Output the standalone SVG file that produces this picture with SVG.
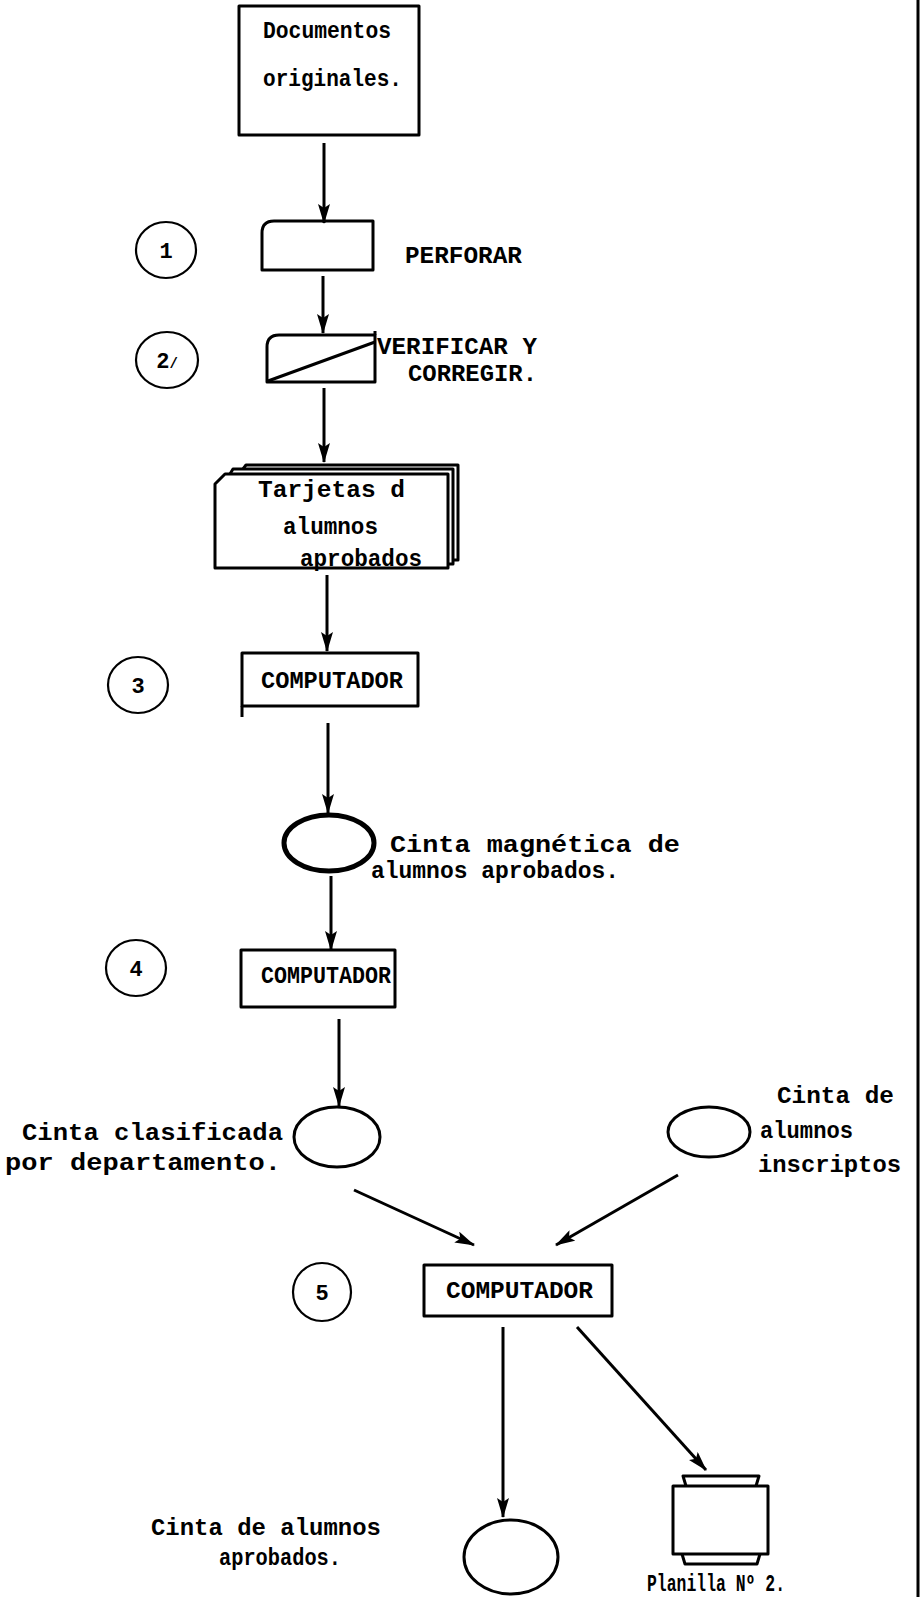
<svg xmlns="http://www.w3.org/2000/svg" width="921" height="1597" viewBox="0 0 921 1597">
<style>
.bg{fill:#fff}
.shape{fill:none;stroke:#000;stroke-width:3;stroke-linejoin:round}
.thick{fill:none;stroke:#000;stroke-width:5}
.circ{fill:none;stroke:#000;stroke-width:2.2}
.conn{fill:none;stroke:#000;stroke-width:3}
.t{font-family:"Liberation Mono","Courier New",monospace;font-weight:bold;font-size:23px;fill:#000}
.n{font-family:"Liberation Mono","Courier New",monospace;font-weight:bold;font-size:22px;fill:#000;text-anchor:middle}
</style>
<defs>
<marker id="ah" markerUnits="userSpaceOnUse" markerWidth="20" markerHeight="12" refX="19" refY="6" orient="auto">
<path d="M0,0 L20,6 L0,12 L4,6 Z" fill="#000"/>
</marker>
</defs>
<rect class="bg" x="0" y="0" width="921" height="1597"/>
<line x1="918" y1="0" x2="918" y2="1597" stroke="#000" stroke-width="3"/>

<g id="connectors">
<line class="conn" x1="324" y1="143" x2="324" y2="223" marker-end="url(#ah)"/>
<line class="conn" x1="323" y1="276" x2="323" y2="333" marker-end="url(#ah)"/>
<line class="conn" x1="324" y1="388" x2="324" y2="462" marker-end="url(#ah)"/>
<line class="conn" x1="327" y1="575" x2="327" y2="651" marker-end="url(#ah)"/>
<line class="conn" x1="328" y1="723" x2="328" y2="813" marker-end="url(#ah)"/>
<line class="conn" x1="331" y1="876" x2="331" y2="950" marker-end="url(#ah)"/>
<line class="conn" x1="339" y1="1019" x2="339" y2="1106" marker-end="url(#ah)"/>
<line class="conn" x1="354" y1="1190" x2="474" y2="1245" marker-end="url(#ah)"/>
<line class="conn" x1="678" y1="1175" x2="556" y2="1245" marker-end="url(#ah)"/>
<line class="conn" x1="503" y1="1327" x2="503" y2="1517" marker-end="url(#ah)"/>
<line class="conn" x1="577" y1="1327" x2="706" y2="1470" marker-end="url(#ah)"/>
</g>

<g id="documentos">
<rect class="shape" x="239" y="6" width="180" height="129"/>
<text class="t" x="263" y="38" textLength="128" lengthAdjust="spacingAndGlyphs">Documentos</text>
<text class="t" x="263" y="86" textLength="139" lengthAdjust="spacingAndGlyphs">originales.</text>
</g>

<g id="step1">
<ellipse class="circ" cx="166" cy="250" rx="30" ry="28"/>
<text class="n" x="166" y="258">1</text>
</g>
<g id="perforar">
<path class="shape" d="M262,233 Q262,221 274,221 L373,221 L373,270 L262,270 Z"/>
<text class="t" x="405" y="263" textLength="117" lengthAdjust="spacingAndGlyphs">PERFORAR</text>
</g>

<g id="step2">
<ellipse class="circ" cx="167" cy="360" rx="31" ry="28"/>
<text class="n" x="167" y="368">2<tspan font-size="14">/</tspan></text>
</g>
<g id="verificar">
<path class="shape" d="M267,347 Q267,335 279,335 L375,335 L375,382 L267,382 Z"/>
<line class="shape" x1="375" y1="331" x2="375" y2="335"/>
<line class="shape" x1="268" y1="381" x2="375" y2="342"/>
<text class="t" x="377" y="354" textLength="160" lengthAdjust="spacingAndGlyphs">VERIFICAR Y</text>
<text class="t" x="408" y="381" textLength="129" lengthAdjust="spacingAndGlyphs">CORREGIR.</text>
</g>

<g id="tarjetas">
<path class="shape" d="M243,469 L246,465 L458,465 L458,560 L453,560"/>
<path class="shape" d="M230,474 L233,469 L453,469 L453,564 L448,564"/>
<path class="shape" d="M215,484 L225,474 L448,474 L448,568 L215,568 Z"/>
<text class="t" x="258" y="497" textLength="147" lengthAdjust="spacingAndGlyphs">Tarjetas d</text>
<text class="t" x="283" y="534" textLength="95" lengthAdjust="spacingAndGlyphs">alumnos</text>
<text class="t" x="300" y="566" textLength="122" lengthAdjust="spacingAndGlyphs">aprobados</text>
</g>

<g id="step3">
<ellipse class="circ" cx="138" cy="685" rx="30" ry="28"/>
<text class="n" x="138" y="693">3</text>
</g>
<g id="computador1">
<rect class="shape" x="242" y="653" width="176" height="53"/>
<line class="shape" x1="242" y1="706" x2="242" y2="717"/>
<text class="t" x="261" y="688" textLength="142" lengthAdjust="spacingAndGlyphs">COMPUTADOR</text>
</g>

<g id="cinta1">
<ellipse class="thick" cx="329" cy="843" rx="45" ry="28"/>
<text class="t" x="390" y="852" textLength="290" lengthAdjust="spacingAndGlyphs">Cinta magnética de</text>
<text class="t" x="371" y="878" textLength="248" lengthAdjust="spacingAndGlyphs">alumnos aprobados.</text>
</g>

<g id="step4">
<ellipse class="circ" cx="136" cy="968" rx="30" ry="28"/>
<text class="n" x="136" y="976">4</text>
</g>
<g id="computador2">
<rect class="shape" x="241" y="950" width="154" height="57"/>
<text class="t" x="261" y="983" textLength="130" lengthAdjust="spacingAndGlyphs">COMPUTADOR</text>
</g>

<g id="cinta2">
<ellipse class="shape" cx="337" cy="1137" rx="43" ry="30"/>
<text class="t" x="22" y="1140" textLength="261" lengthAdjust="spacingAndGlyphs">Cinta clasificada</text>
<text class="t" x="5" y="1170" textLength="276" lengthAdjust="spacingAndGlyphs">por departamento.</text>
</g>

<g id="cinta3">
<ellipse class="shape" cx="709" cy="1132" rx="41" ry="25"/>
<text class="t" x="777" y="1103" textLength="117" lengthAdjust="spacingAndGlyphs">Cinta de</text>
<text class="t" x="760" y="1138" textLength="93" lengthAdjust="spacingAndGlyphs">alumnos</text>
<text class="t" x="758" y="1172" textLength="143" lengthAdjust="spacingAndGlyphs">inscriptos</text>
</g>

<g id="step5">
<ellipse class="circ" cx="322" cy="1292" rx="29" ry="29"/>
<text class="n" x="322" y="1300">5</text>
</g>
<g id="computador3">
<rect class="shape" x="424" y="1265" width="188" height="51"/>
<text class="t" x="446" y="1298" textLength="147" lengthAdjust="spacingAndGlyphs">COMPUTADOR</text>
</g>

<g id="cinta4">
<ellipse class="shape" cx="511" cy="1557" rx="47" ry="37"/>
<text class="t" x="151" y="1535" textLength="230" lengthAdjust="spacingAndGlyphs">Cinta de alumnos</text>
<text class="t" x="219" y="1565" textLength="122" lengthAdjust="spacingAndGlyphs">aprobados.</text>
</g>

<g id="planilla">
<path class="shape" d="M686,1486 L683,1476 L759,1476 L756,1486"/>
<rect class="shape" x="673" y="1486" width="95" height="68"/>
<path class="shape" d="M682,1554 L685,1564 L757,1564 L760,1554"/>
<text class="t" x="647" y="1591" textLength="138" lengthAdjust="spacingAndGlyphs">Planilla Nº 2.</text>
</g>
</svg>
